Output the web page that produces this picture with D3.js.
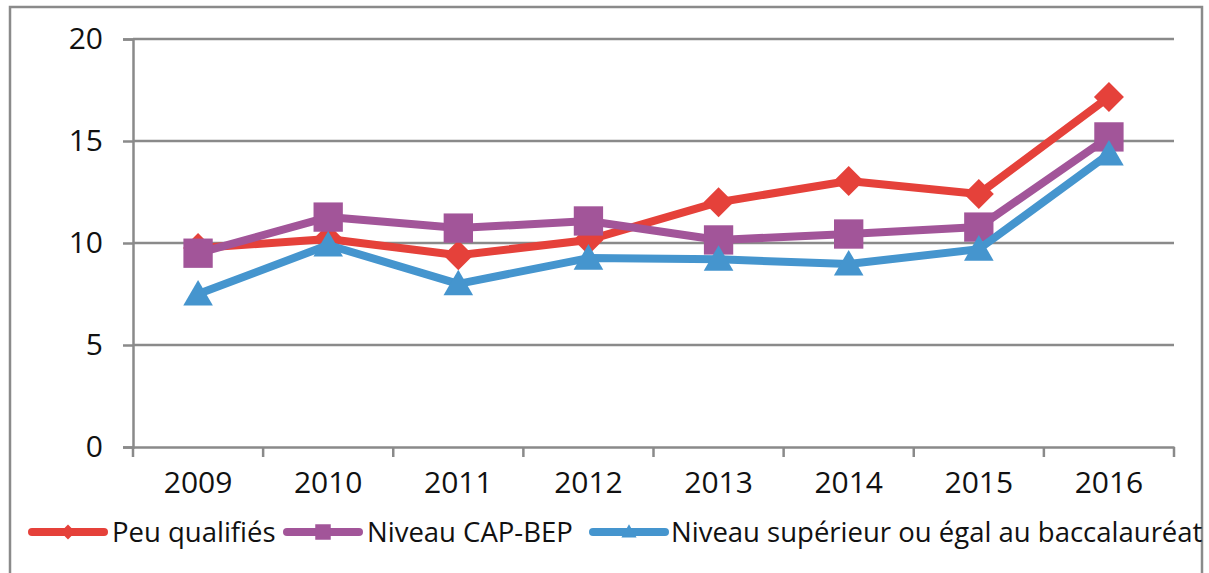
<!DOCTYPE html>
<html><head><meta charset="utf-8">
<script src="https://cdn.jsdelivr.net/npm/d3@7"></script>
<style>body{margin:0;background:#fff}svg{display:block}</style>
</head><body>
<svg id="c" width="1209" height="573"></svg>
<script>
const years = ["2009","2010","2011","2012","2013","2014","2015","2016"];
const peuQualifies = [9.75, 10.2, 9.4, 10.15, 12.0, 13.04, 12.4, 17.16];
const capBep = [9.5, 11.27, 10.73, 11.08, 10.15, 10.44, 10.78, 15.2];
const bacPlus = [7.5, 9.9, 8.0, 9.26, 9.2, 8.97, 9.7, 14.36];
const yTicks = [0, 5, 10, 15, 20];
const seriesNames = ["Peu qualifiés", "Niveau CAP-BEP", "Niveau supérieur ou égal au baccalauréat"];

const series = [
  {name: seriesNames[0], values: peuQualifies, color: "#E5413A", symbol: d3.symbolSquare, rot: 45, size: 450, lsize: 110, dy: 0},
  {name: seriesNames[1], values: capBep, color: "#A25599", symbol: d3.symbolSquare, rot: 0, size: 860, lsize: 240, dy: 0},
  {name: seriesNames[2], values: bacPlus, color: "#4595CE", symbol: d3.symbolTriangle, rot: 0, size: 380, lsize: 100, dy: 3}
];

const svg = d3.select("#c");
const font = "'Open Sans', 'Noto Sans', sans-serif";
const grid = "#8a8a8a";

svg.append("rect").attr("x", 10).attr("y", 7).attr("width", 1192).attr("height", 580)
  .attr("fill", "none").attr("stroke", grid).attr("stroke-width", 2.5);

const x = d3.scaleBand().domain(years).range([133, 1174]);
const y = d3.scaleLinear().domain([0, 20]).range([447, 39]);

svg.append("g").selectAll("line").data(yTicks.filter(t => t > 0)).join("line")
  .attr("x1", 133).attr("x2", 1174).attr("y1", d => y(d)).attr("y2", d => y(d))
  .attr("stroke", grid).attr("stroke-width", 2.5);

const yAxis = svg.append("g").attr("transform", "translate(133,0)")
  .call(d3.axisLeft(y).tickValues(yTicks).tickSize(10).tickPadding(20).tickFormat(d3.format("d")));
yAxis.select(".domain").attr("stroke", grid).attr("stroke-width", 2.5);
yAxis.selectAll(".tick line").attr("stroke", grid).attr("stroke-width", 2.5);
yAxis.selectAll("text").attr("font-family", font).attr("font-size", 30).attr("fill", "#111");

const xAxis = svg.append("g").attr("transform", `translate(0,${y(0)})`)
  .call(d3.axisBottom(x).tickSize(0).tickPadding(25));
xAxis.select(".domain").attr("stroke", grid).attr("stroke-width", 2.5);
xAxis.selectAll("text").attr("font-family", font).attr("font-size", 30).attr("fill", "#111");
const bounds = years.map(d => x(d)).concat([x.range()[1]]);
svg.append("g").selectAll("line").data(bounds).join("line")
  .attr("x1", d => d).attr("x2", d => d).attr("y1", y(0)).attr("y2", y(0) + 10)
  .attr("stroke", grid).attr("stroke-width", 2.5);

const cx = d => x(d) + x.bandwidth() / 2;
const line = d3.line().x((d, i) => cx(years[i])).y(d => y(d));

series.forEach(s => {
  const g = svg.append("g");
  g.append("path").attr("d", line(s.values)).attr("fill", "none")
    .attr("stroke", s.color).attr("stroke-width", 8).attr("stroke-linejoin", "round");
  g.selectAll("path.m").data(s.values).join("path").attr("class", "m")
    .attr("transform", (d, i) => `translate(${cx(years[i])},${y(d) + s.dy}) rotate(${s.rot})`)
    .attr("d", d3.symbol(s.symbol, s.size)).attr("fill", s.color);
});

const legendItems = [
  {s: series[0], x0: 28, tx: 112},
  {s: series[1], x0: 283, tx: 367},
  {s: series[2], x0: 589, tx: 671}
];
const ly = 532;
legendItems.forEach(it => {
  const g = svg.append("g");
  g.append("line").attr("x1", it.x0 + 4).attr("x2", it.x0 + 76).attr("y1", ly).attr("y2", ly)
    .attr("stroke", it.s.color).attr("stroke-width", 8).attr("stroke-linecap", "round");
  g.append("path").attr("transform", `translate(${it.x0 + 40},${ly + (it.s.dy ? 1 : 0)}) rotate(${it.s.rot})`)
    .attr("d", d3.symbol(it.s.symbol, it.s.lsize)).attr("fill", it.s.color);
  g.append("text").attr("x", it.tx).attr("y", ly).attr("dy", "0.35em")
    .attr("font-family", font).attr("font-size", 27.5).attr("fill", "#111").text(it.s.name);
});
</script>
</body></html>
